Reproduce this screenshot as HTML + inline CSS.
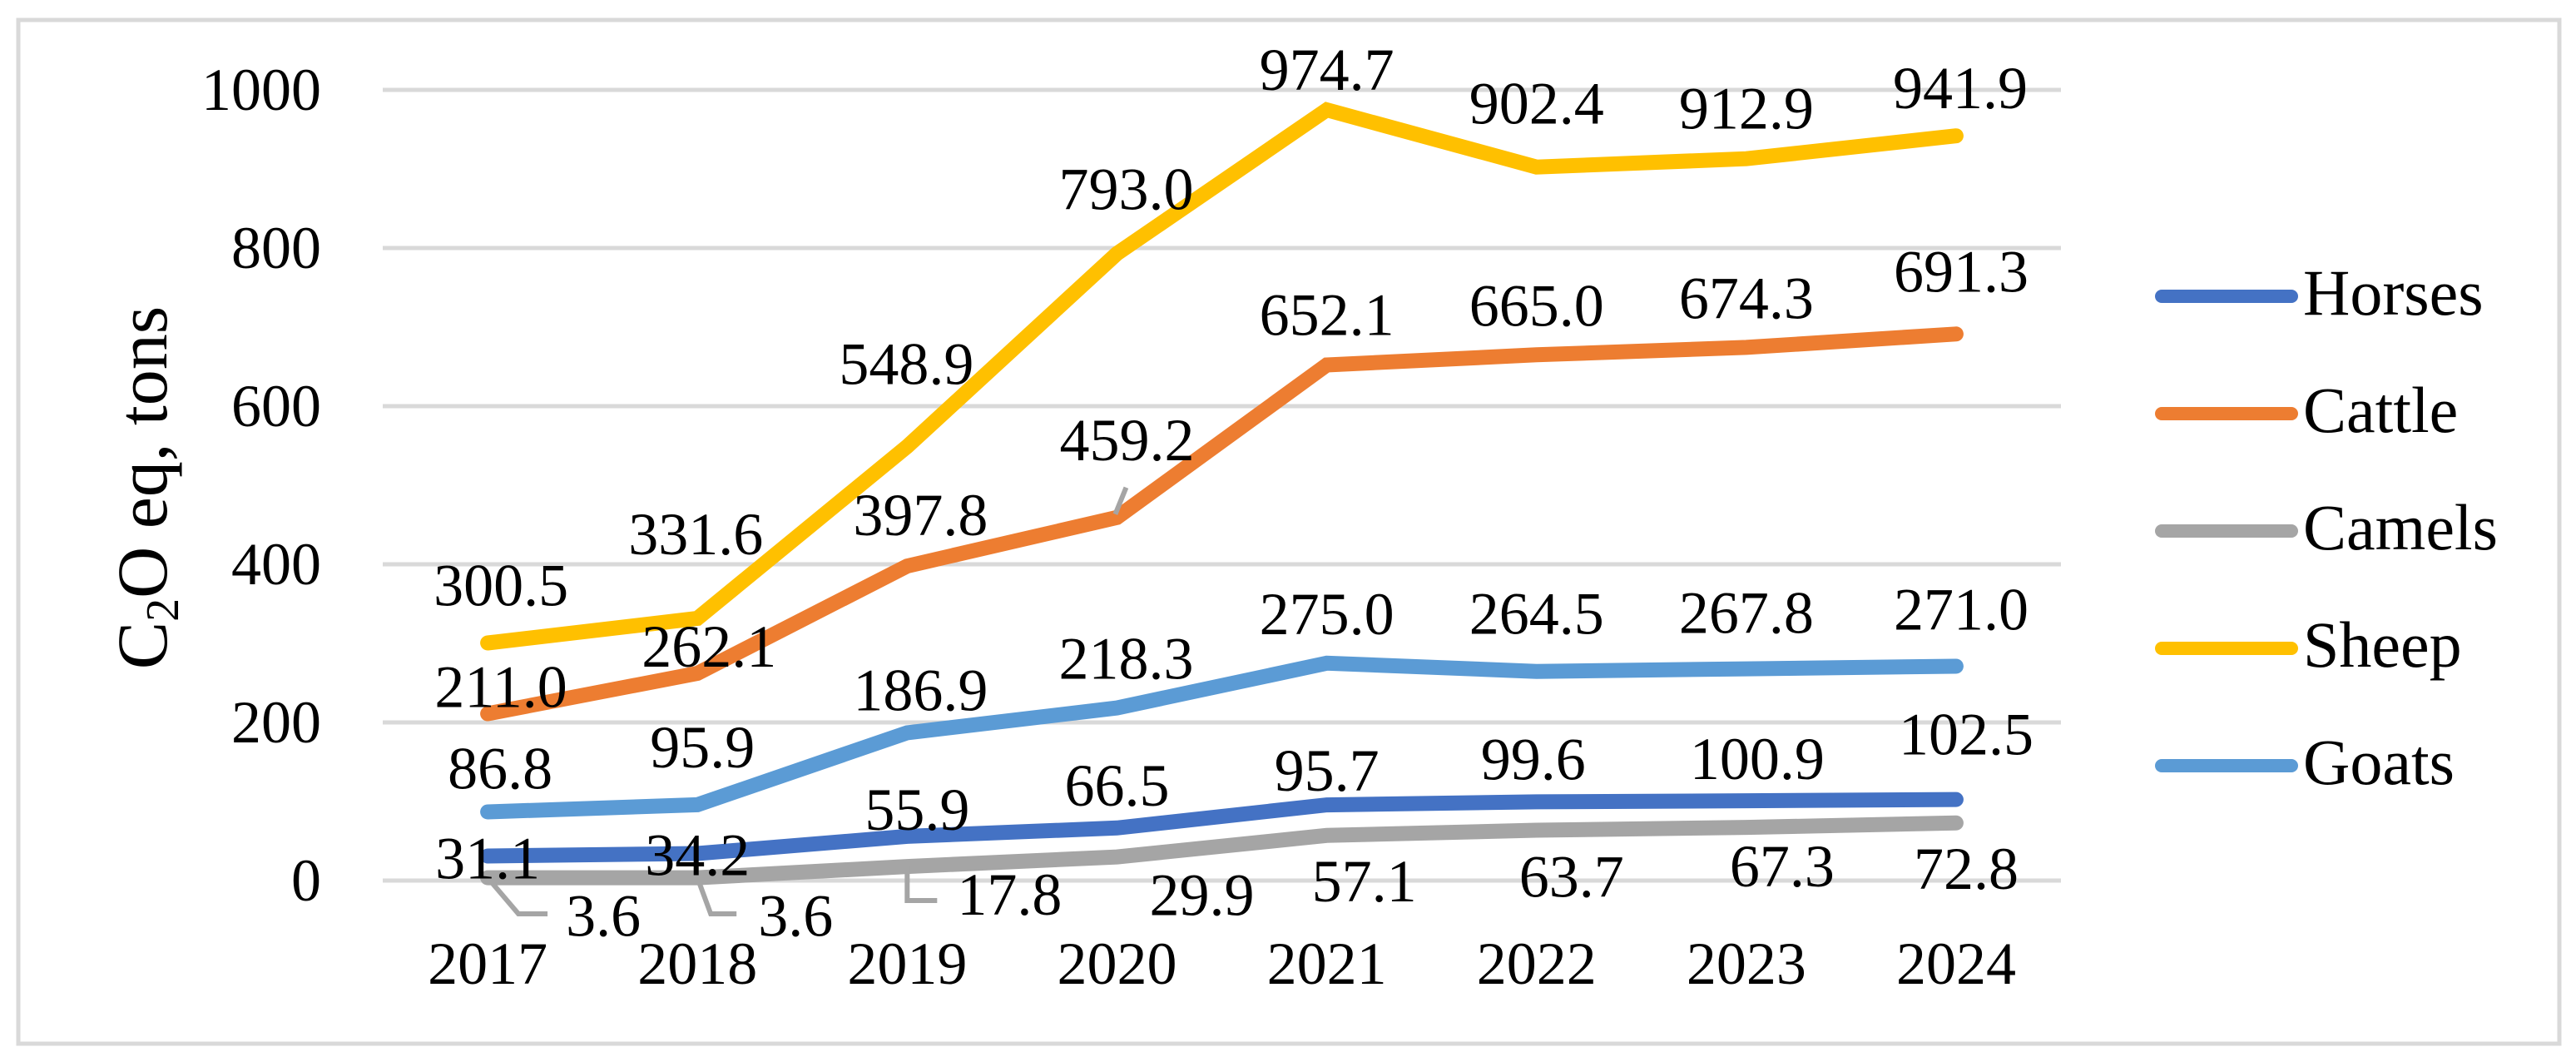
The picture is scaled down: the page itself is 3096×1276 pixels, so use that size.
<!DOCTYPE html>
<html><head><meta charset="utf-8"><style>
html,body{margin:0;padding:0;background:#fff;}
svg{display:block;}
text{font-family:"Liberation Serif",serif;fill:#000;}
</style></head><body>
<svg id="chart" width="3096" height="1276" viewBox="0 0 3096 1276" xmlns="http://www.w3.org/2000/svg">
<rect x="22" y="24" width="3054" height="1230" fill="#fff" stroke="#d9d9d9" stroke-width="5"/>
<g id="grid"></g>
<g id="yticks"></g>
<g id="xticks"></g>
<text transform="translate(200,586) rotate(-90)" text-anchor="middle" font-size="86">C<tspan font-size="56" dy="14">2</tspan><tspan dy="-14">O eq, tons</tspan></text>
<g id="series"></g>
<g id="labels"></g>
<g id="legend"></g>
</svg>
<script>
const years = ["2017","2018","2019","2020","2021","2022","2023","2024"];
const horses = [31.1,34.2,55.9,66.5,95.7,99.6,100.9,102.5];
const cattle = [211.0,262.1,397.8,459.2,652.1,665.0,674.3,691.3];
const camels = [3.6,3.6,17.8,29.9,57.1,63.7,67.3,72.8];
const sheep = [300.5,331.6,548.9,793.0,974.7,902.4,912.9,941.9];
const goats = [86.8,95.9,186.9,218.3,275.0,264.5,267.8,271.0];
const yTicks = [0,200,400,600,800,1000];

const NS="http://www.w3.org/2000/svg";
const plotL=460, plotR=2477, y0=1058, pxPerUnit=0.95;
const band=(plotR-plotL)/years.length;
function xPos(i){return plotL+band*(i+0.5);}
function yPos(v){return y0-v*pxPerUnit;}
function mk(tag,attrs,parent){const e=document.createElementNS(NS,tag);for(const k in attrs)e.setAttribute(k,attrs[k]);parent.appendChild(e);return e;}

const grid=document.getElementById('grid'), yt=document.getElementById('yticks'), xt=document.getElementById('xticks');
yTicks.forEach(t=>{
  const l=mk('line',{x1:plotL,x2:plotR,y1:yPos(t),y2:yPos(t),stroke:'#d9d9d9','stroke-width':5},grid);
  
  
  const tx=mk('text',{x:386,y:yPos(t)+24,'text-anchor':'end','font-size':72},yt);
  tx.textContent=String(t);
  
  
});
years.forEach((y,i)=>{
  const tx=mk('text',{x:xPos(i),y:1182,'text-anchor':'middle','font-size':72},xt);
  tx.textContent=y;
  
  
});

// label offsets (layout only): [dx, dy] relative to point, baseline
const seriesDefs=[
 {name:'Horses',vals:horses,color:'#4472c4',off:[[0,27],[0,26],[12,-8],[0,-27],[0,-17],[-4,-27],[13,-26],[12,-54]]},
 {name:'Cattle',vals:cattle,color:'#ed7d31',off:[[16,-8],[14,-8],[16,-37],[12,-69],[0,-36],[0,-35],[0,-35],[6,-51]]},
 {name:'Camels',vals:camels,color:'#a5a5a5',off:[[139,70],[118,70],[123,58],[102,70],[45,79],[42,80],[43,71],[12,79]]},
 {name:'Sheep',vals:sheep,color:'#ffc000',off:[[16,-45],[-2,-77],[-1,-75],[11,-53],[0,-24],[0,-52],[0,-36],[5,-33]]},
 {name:'Goats',vals:goats,color:'#5b9bd5',off:[[15,-28],[6,-45],[16,-27],[11,-35],[0,-35],[0,-45],[0,-43],[6,-44]]}
];
const sg=document.getElementById('series'), lg=document.getElementById('labels'), leg=document.getElementById('legend');
seriesDefs.forEach(s=>{
  const pts=s.vals.map((v,i)=>xPos(i).toFixed(1)+','+yPos(v).toFixed(1)).join(' ');
  const pl=mk('polyline',{points:pts,fill:'none',stroke:s.color,'stroke-width':18,'stroke-linecap':'round','stroke-linejoin':'miter'},sg);
  
  
});
function leader(pts,name){
  const p=mk('polyline',{points:pts.map(a=>a.join(',')).join(' '),fill:'none',stroke:'#a5a5a5','stroke-width':6},lg);
  
  
}
leader([[xPos(0),yPos(camels[0])],[xPos(0)+37,1098],[xPos(0)+72,1098]],'leader-camels-2017');
leader([[xPos(1),yPos(camels[1])],[xPos(1)+16,1098],[xPos(1)+47,1098]],'leader-camels-2018');
leader([[xPos(2),yPos(camels[2])],[xPos(2),1082],[xPos(2)+36,1082]],'leader-camels-2019');
leader([[xPos(3)-2,yPos(cattle[3])-4],[xPos(3)+11,yPos(cattle[3])-36]],'leader-cattle-2020');

seriesDefs.forEach(s=>{
  s.vals.forEach((v,i)=>{
    const o=s.off[i];
    const t=mk('text',{x:xPos(i)+o[0],y:yPos(v)+o[1],'text-anchor':'middle','font-size':72},lg);
    t.textContent=v.toFixed(1);
    
    
  });
});
seriesDefs.forEach((s,k)=>{
  const y=356+k*141;
  const g=mk('g',{},leg);
  
  
  mk('line',{x1:2598,x2:2754,y1:y,y2:y,stroke:s.color,'stroke-width':16,'stroke-linecap':'round'},g);
  const t=mk('text',{x:2768,y:y+22,'font-size':78},g);
  t.textContent=s.name;
});
</script>
</body></html>
